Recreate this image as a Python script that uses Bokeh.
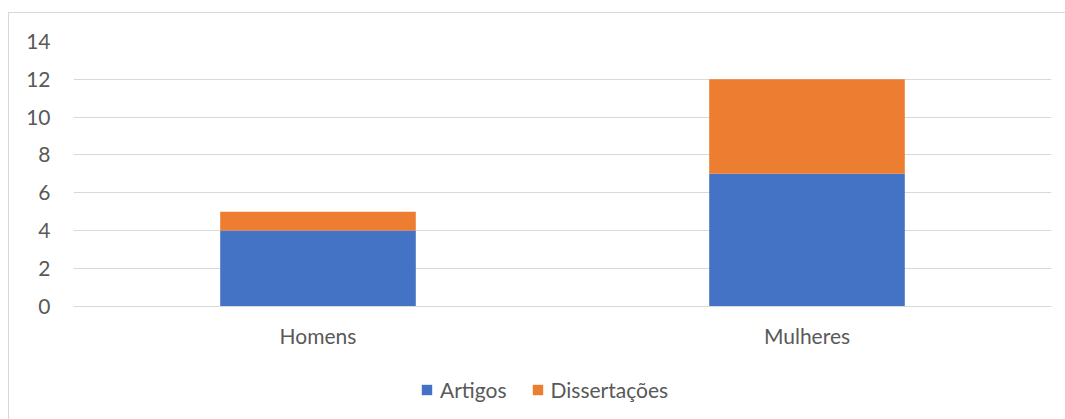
from bokeh.plotting import figure
from bokeh.models import ColumnDataSource, Legend, LegendItem, FactorRange, Range1d, FixedTicker
from bokeh.embed import file_html
from bokeh.resources import INLINE

categories = ["Homens", "Mulheres"]
artigos = [4, 7]
dissertacoes = [1, 5]
series = ["Artigos", "Dissertações"]
colors = ["#4472C4", "#ED7D31"]
y_ticks = [0, 2, 4, 6, 8, 10, 12, 14]

source = ColumnDataSource(data=dict(cat=categories, Artigos=artigos, Dissertações=dissertacoes))

FONT = "Lato"
TXT = "#595959"
FS = "21px"

p = figure(x_range=FactorRange(*categories, range_padding=0), y_range=Range1d(-6.045, 14),
           width=1057, height=407, output_backend="svg", toolbar_location=None,
           min_border_left=64, min_border_right=15, min_border_top=28, min_border_bottom=0)
p.margin = (12, 0, 0, 8)
p.styles = {"border-top": "1px solid #d9d9d9", "border-left": "1px solid #d9d9d9"}
p.outline_line_color = None
p.background_fill_color = "white"

renderers = p.vbar_stack(series, x="cat", width=0.4, color=colors, source=source, line_color=None)

p.yaxis.ticker = FixedTicker(ticks=y_ticks)
p.yaxis.axis_line_color = None
p.yaxis.major_tick_line_color = None
p.yaxis.minor_tick_line_color = None
p.yaxis.major_label_text_font = FONT
p.yaxis.major_label_text_font_size = FS
p.yaxis.major_label_text_color = TXT
p.yaxis.major_label_standoff = 17

p.xaxis.fixed_location = 0
p.xaxis.axis_line_color = "#d9d9d9"
p.xaxis.major_tick_line_color = None
p.xaxis.minor_tick_line_color = None
p.xaxis.major_label_text_font = FONT
p.xaxis.major_label_text_font_size = FS
p.xaxis.major_label_text_color = TXT
p.xaxis.major_label_standoff = 11

p.xgrid.grid_line_color = None
p.ygrid.grid_line_color = "#d9d9d9"
p.ygrid.ticker = FixedTicker(ticks=y_ticks)

legend = Legend(items=[LegendItem(label=s, renderers=[r]) for s, r in zip(series, renderers)],
                orientation="horizontal", location=(347, 18))
legend.label_text_font = FONT
legend.label_text_font_size = FS
legend.label_text_color = TXT
legend.glyph_width = 13
legend.glyph_height = 13
legend.label_standoff = 7
legend.spacing = 24
legend.padding = 0
legend.margin = 0
legend.border_line_color = None
legend.background_fill_alpha = 0
p.add_layout(legend, "center")

open("out.html", "w").write(file_html(p, INLINE))
